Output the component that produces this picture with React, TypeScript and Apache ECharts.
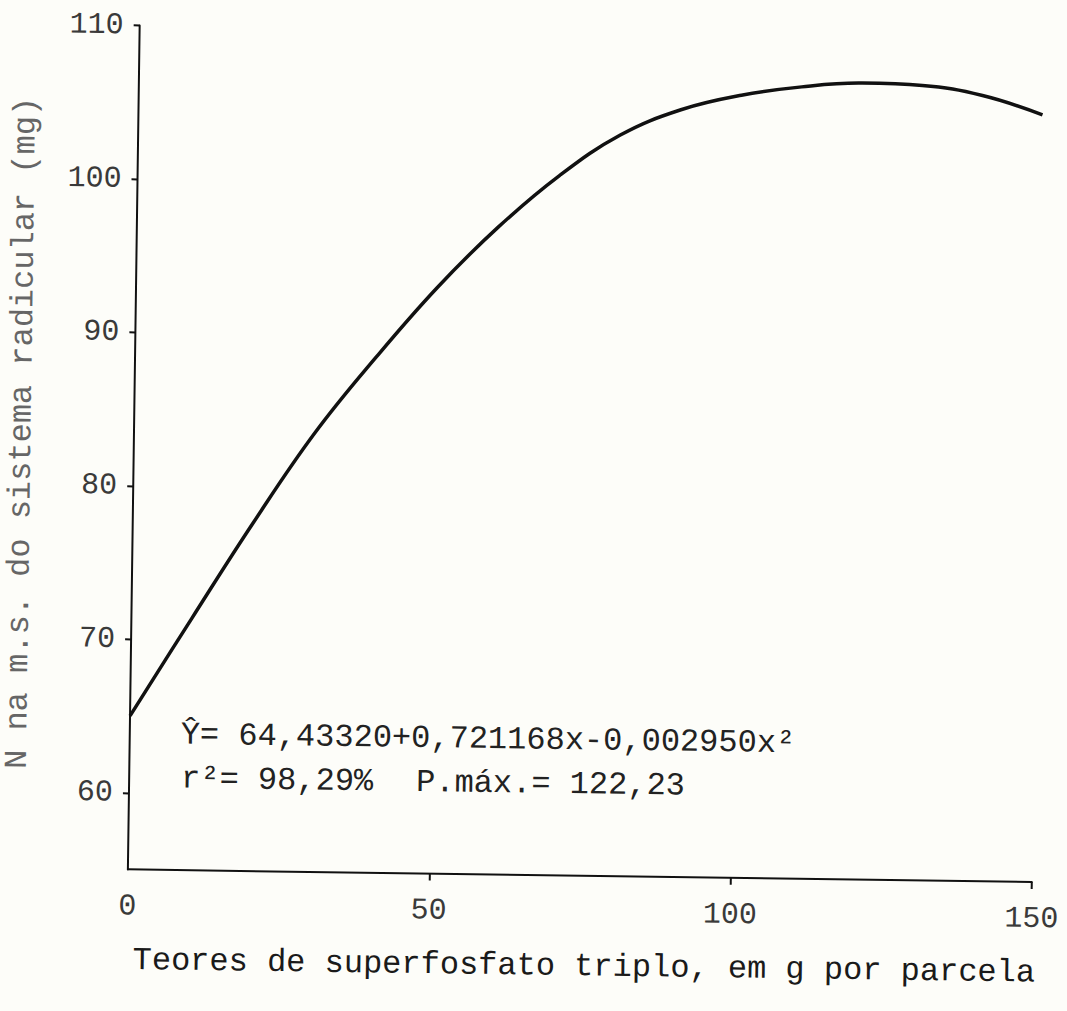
import { useEffect, useRef } from "react";
import * as echarts from "echarts";

// Dose of triple superphosphate (g per plot) and N in root dry matter (mg)
const doseG = [0, 10, 20, 30, 40, 50, 60, 70, 80, 90, 100, 110, 120, 130, 140, 150];
const nitrogenMg = [65.0, 71.4, 77.7, 83.6, 88.6, 93.2, 97.2, 100.6, 103.3, 105.0, 106.0, 106.6, 106.9, 106.8, 106.2, 105.0];

const xTickValues = [50, 100, 150];
const yTickValues = [60, 70, 80, 90, 100, 110];

const yTitle = "N na m.s. do sistema radicular (mg)";
const xTitle = "Teores de superfosfato triplo, em g por parcela";
const equationText = "Ŷ= 64,43320+0,721168x-0,002950x²";
const r2Text = "r²= 98,29%";
const pMaxText = "P.máx.= 122,23";

const FONT = "'Liberation Mono', 'DejaVu Sans Mono', monospace";

export default function App() {
  const ref = useRef<HTMLDivElement>(null);

  useEffect(() => {
    const chart = echarts.init(ref.current!, null, { renderer: "svg" });
    const ink = "#111";
    const note = (text: string, x: number, y: number) => ({
      type: "text",
      x,
      y,
      style: { text, font: `32px ${FONT}`, fill: "#222", align: "left", verticalAlign: "middle" },
    });
    chart.setOption({
      animation: false,
      backgroundColor: "transparent",
      grid: { left: 133, right: 30, top: 31, bottom: 136, containLabel: false },
      xAxis: {
        type: "value",
        min: 0,
        max: 150,
        interval: 50,
        splitLine: { show: false },
        axisLine: { lineStyle: { color: ink, width: 2 } },
        axisTick: { show: true, length: 7, customValues: xTickValues, lineStyle: { color: ink, width: 2 } },
        axisLabel: { fontFamily: FONT, fontSize: 30, color: "#3a3a3a", margin: 22 },
      },
      yAxis: {
        type: "value",
        min: 55,
        max: 110,
        splitLine: { show: false },
        axisLine: { lineStyle: { color: ink, width: 2 } },
        axisTick: { show: true, length: 6, customValues: yTickValues, lineStyle: { color: ink, width: 2 } },
        axisLabel: { customValues: yTickValues, fontFamily: FONT, fontSize: 30, color: "#3a3a3a", margin: 16 },
      },
      series: [
        {
          type: "line",
          data: doseG.map((d, i) => [d, nitrogenMg[i]]),
          smooth: 0.4,
          showSymbol: false,
          symbol: "none",
          lineStyle: { color: ink, width: 3.5 },
          silent: true,
        },
      ],
      graphic: [
        {
          type: "text",
          x: 21,
          y: 440,
          rotation: Math.PI / 2,
          style: { text: yTitle, font: `32px ${FONT}`, fill: "#666", align: "center", verticalAlign: "middle" },
        },
        {
          type: "text",
          x: 139,
          y: 966,
          style: { text: xTitle, font: `32px ${FONT}`, fill: "#1a1a1a", align: "left", verticalAlign: "middle" },
        },
        note(equationText, 184, 740),
        note(r2Text, 185, 784),
        note(pMaxText, 420, 784),
      ],
    });
    return () => chart.dispose();
  }, []);

  return (
    <div style={{ position: "fixed", left: 0, top: 0, width: 1067, height: 1011, background: "#fdfdf9", overflow: "hidden" }}>
      <div ref={ref} style={{ width: 1067, height: 1011, transform: "rotate(0.8deg)" }} />
    </div>
  );
}
